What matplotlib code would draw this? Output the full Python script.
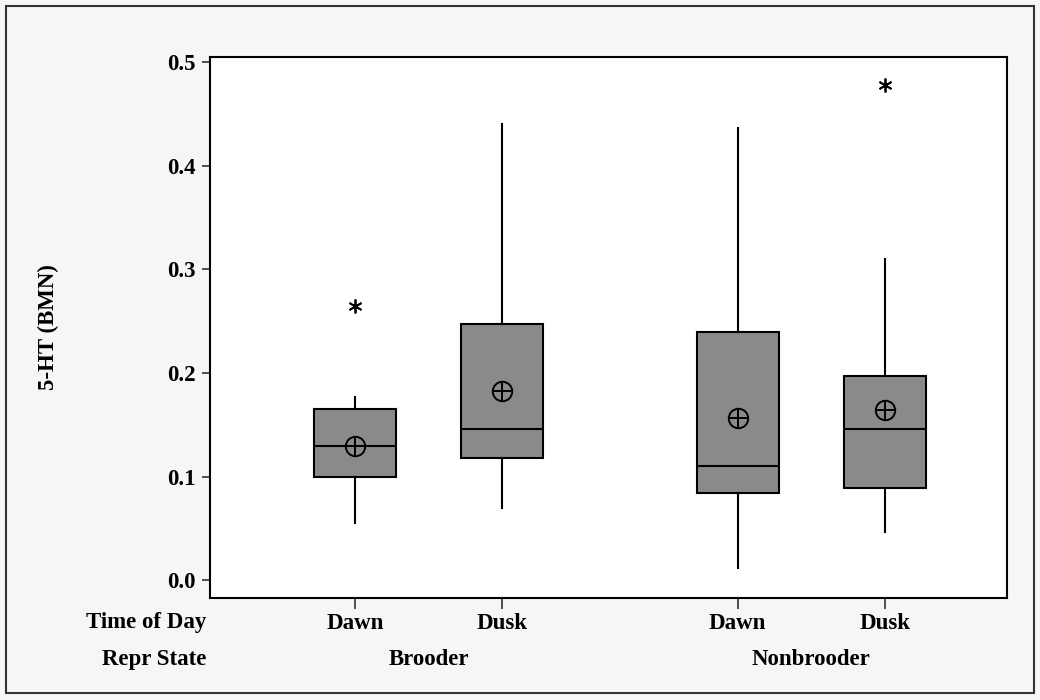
import numpy as np
import matplotlib.pyplot as plt
from matplotlib.patches import Rectangle

plt.rcParams['font.family'] = ['Liberation Serif', 'DejaVu Serif']
plt.rcParams['font.weight'] = 'bold'

# values
time_of_day = ['Dawn', 'Dusk', 'Dawn', 'Dusk']
repr_state = ['Brooder', 'Nonbrooder']
positions = [1, 2, 3.6, 4.6]
q1 = [0.100, 0.118, 0.084, 0.089]
med = [0.130, 0.146, 0.110, 0.146]
q3 = [0.165, 0.247, 0.240, 0.197]
whislo = [0.055, 0.070, 0.012, 0.047]
whishi = [0.177, 0.440, 0.436, 0.310]
means = [0.130, 0.183, 0.157, 0.164]
outliers = [[0.265], [], [], [0.478]]

stats = []
for i in range(4):
    stats.append(dict(q1=q1[i], med=med[i], q3=q3[i], whislo=whislo[i],
                      whishi=whishi[i], mean=means[i], fliers=outliers[i]))

fig = plt.figure(figsize=(10.4, 7), dpi=100, facecolor='#f6f6f6')
fig.patches.append(Rectangle((0.006, 0.01), 0.988, 0.982, transform=fig.transFigure,
                             fill=False, edgecolor='#333333', linewidth=1.5))
ax = fig.add_axes([0.2019, 0.1457, 0.7664, 0.7729])
ax.set_facecolor('white')

ax.bxp(stats, positions=positions, widths=0.56, patch_artist=True,
       showcaps=False, showmeans=False, showfliers=True,
       boxprops=dict(facecolor='#8a8a8a', edgecolor='black', linewidth=1.5),
       medianprops=dict(color='black', linewidth=1.5),
       whiskerprops=dict(color='black', linewidth=1.5),
       flierprops=dict(marker=(6, 2, 0), markersize=10, markeredgecolor='black',
                       markeredgewidth=1.3, linestyle='none'))

# mean symbol: circle with cross
ax.plot(positions, means, 'o', markersize=14, markerfacecolor='none',
        markeredgecolor='black', markeredgewidth=1.4, zorder=5)
ax.plot(positions, means, '+', markersize=14, markeredgecolor='black',
        markeredgewidth=1.4, zorder=5)

ax.set_xlim(0.014, 5.43)
ax.set_ylim(-0.017, 0.505)
ax.set_yticks([0.0, 0.1, 0.2, 0.3, 0.4, 0.5])
ax.set_yticklabels(['0.0', '0.1', '0.2', '0.3', '0.4', '0.5'])
ax.set_xticks(positions)
ax.set_xticklabels(time_of_day)
ax.tick_params(axis='both', labelsize=16.5, width=1.2, color='#333333')
ax.tick_params(axis='x', length=8, pad=3)
ax.tick_params(axis='y', length=6, pad=4)
for s in ax.spines.values():
    s.set_linewidth(1.5)

ax.set_ylabel('5-HT (BMN)', fontsize=16.5, fontweight='bold')
ax.yaxis.set_label_coords(-0.19, 0.5)

# row labels below the axis
ax.text(-0.004, -0.045, 'Time of Day', transform=ax.transAxes, ha='right', va='center',
        fontsize=16.5, fontweight='bold')
ax.text(-0.004, -0.114, 'Repr State', transform=ax.transAxes, ha='right', va='center',
        fontsize=16.5, fontweight='bold')
group_x = [np.mean(positions[0:2]), np.mean(positions[2:4])]
for gx, name in zip(group_x, repr_state):
    ax.text(gx, -0.114, name, transform=ax.get_xaxis_transform(), ha='center',
            va='center', fontsize=16.5, fontweight='bold')

fig.savefig('out.png', dpi=100, facecolor=fig.get_facecolor())
